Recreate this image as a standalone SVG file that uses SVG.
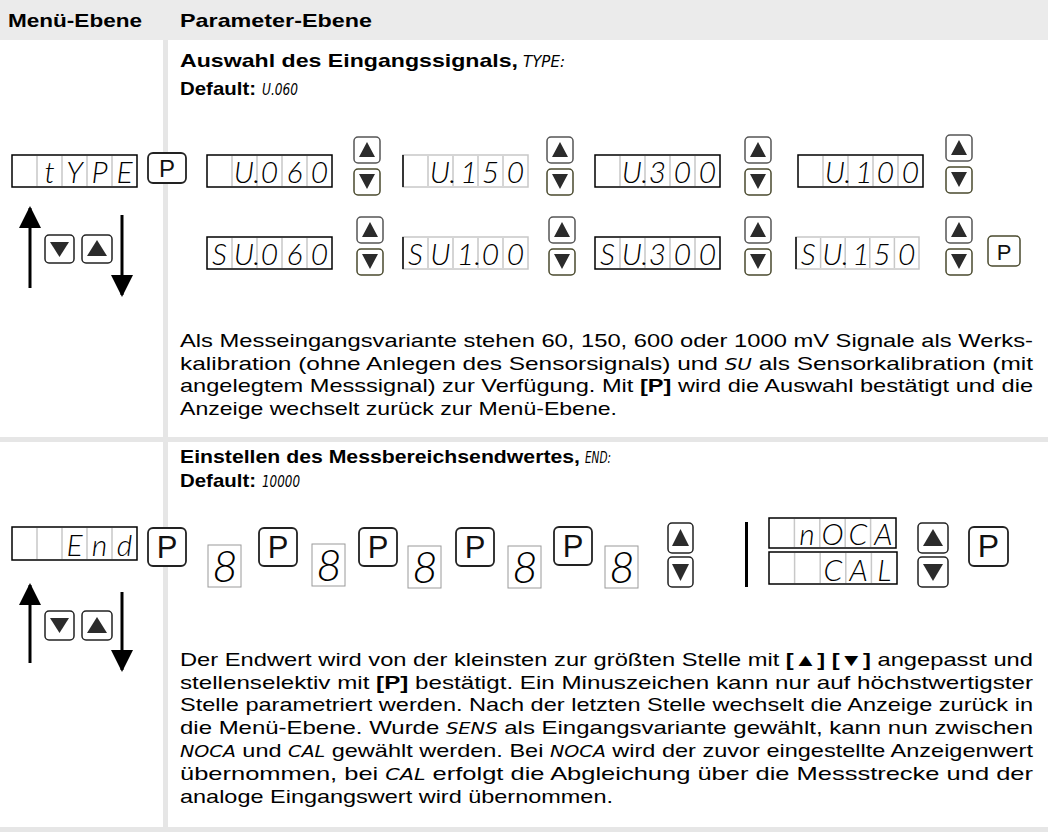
<svg xmlns="http://www.w3.org/2000/svg" width="1048" height="832" viewBox="0 0 1048 832">
<style>
.hd{font-family:"Liberation Sans",Arial,sans-serif;font-weight:bold;font-size:19px;fill:#000}
.tx{font-family:"Liberation Sans",Arial,sans-serif;font-size:17.7px;fill:#000}
.bd{font-weight:bold}
.si{font-family:"Liberation Sans Narrow","DejaVu Sans Condensed",sans-serif;font-style:italic;font-weight:normal;font-size:16px;fill:#000}
.seg{font-family:Lato,"DejaVu Sans",sans-serif;font-weight:300;font-style:italic;font-size:30px;fill:#000;text-anchor:middle}
.seg8{font-family:Lato,"DejaVu Sans",sans-serif;font-weight:300;font-style:italic;font-size:44px;fill:#000;text-anchor:middle}
.dbox{fill:#fff;stroke:#000;stroke-width:1.5}
.dcell{fill:none;stroke:#c8c8c8;stroke-width:1.5}
.box8{fill:#fff;stroke:#9a9a9a;stroke-width:1}
.bu{fill:#fff;stroke:#555;stroke-width:1.5}
.bdn{fill:#fff;stroke:#4a4a2e;stroke-width:1.5}
.tri{fill:#2b2b2b}
.pb{fill:#fff;stroke:#222;stroke-width:1.8}
.pt{font-family:"Liberation Sans",Arial,sans-serif;font-size:24px;fill:#111;text-anchor:middle}
.pt2{font-family:"Liberation Sans",Arial,sans-serif;font-size:31px;fill:#111;text-anchor:middle}
.arr{stroke:#000;stroke-width:3;fill:none}
</style>
<defs>
<marker id="ah" markerUnits="userSpaceOnUse" markerWidth="22" markerHeight="22" viewBox="0 0 22 22" refX="20" refY="11" orient="auto">
<path d="M0,0 L22,11 L0,22 Z" fill="#000"/>
</marker>
<g id="ud">
<rect class="bu" x="0" y="0" width="26" height="26" rx="4"/>
<path class="tri" d="M5,20 L13,5 L21,20 Z"/>
<rect class="bdn" x="0" y="32" width="26" height="26" rx="4"/>
<path class="tri" d="M5,37 L21,37 L13,52 Z"/>
</g>
</defs>
<rect width="1048" height="832" fill="#fff"/>
<g id="table">
<rect x="0" y="0" width="1048" height="40" fill="#ebebeb"/>
<rect x="163" y="40" width="5" height="792" fill="#e6e6e6"/>
<rect x="0" y="437" width="1048" height="5" fill="#e6e6e6"/>
<rect x="0" y="827" width="1048" height="5" fill="#e6e6e6"/>
<text class="hd" x="8" y="27" textLength="134" lengthAdjust="spacingAndGlyphs">Menü-Ebene</text>
<text class="hd" x="180" y="27" textLength="192" lengthAdjust="spacingAndGlyphs">Parameter-Ebene</text>
</g>

<g id="title-type">
<text class="hd" x="180" y="67" textLength="338" lengthAdjust="spacingAndGlyphs">Auswahl des Eingangssignals,</text>
<text class="si" x="523" y="67" textLength="42" lengthAdjust="spacingAndGlyphs">TYPE:</text>
<text class="hd" x="180" y="95" textLength="76" lengthAdjust="spacingAndGlyphs">Default:</text>
<text class="si" x="262" y="95" textLength="36" lengthAdjust="spacingAndGlyphs">U.060</text>
</g>

<g id="menu-type">
<g transform="translate(12,155)"><rect class="dbox" width="125" height="32"/><path class="dcell" d="M25,1V31M50,1V31M75,1V31M100,1V31"/>
<text class="seg" x="37.5" y="28">t</text><text class="seg" x="62.5" y="28">Y</text><text class="seg" x="87.5" y="28">P</text><text class="seg" x="112.5" y="28">E</text></g>
<rect class="pb" x="148" y="153" width="38" height="30" rx="5"/><text class="pt" x="167" y="177">P</text>
<rect class="bu" x="45" y="235" width="29" height="28" rx="4" style="stroke:#222"/><path class="tri" d="M50,242 L69,242 L59.5,257 Z"/>
<rect class="bu" x="82" y="235" width="30" height="28" rx="4" style="stroke:#222"/><path class="tri" d="M87,256 L97,240 L107,256 Z"/>
</g>

<g id="type-options">
<g transform="translate(207,155)"><rect class="dbox" width="125" height="32"/><path class="dcell" d="M25,1V31M50,1V31M75,1V31M100,1V31"/>
<text class="seg" x="40" y="28">U.</text><text class="seg" x="62.5" y="28">0</text><text class="seg" x="87.5" y="28">6</text><text class="seg" x="112.5" y="28">0</text></g>
<use href="#ud" x="354" y="137"/>
<g transform="translate(403,155)"><rect class="dbox" width="125" height="32" style="stroke:#c8c8c8"/><path d="M0,0V32" stroke="#000" stroke-width="1.5"/><path class="dcell" d="M25,1V31M50,1V31M75,1V31M100,1V31"/>
<text class="seg" x="40" y="28">U.</text><text class="seg" x="66" y="28">1</text><text class="seg" x="87.5" y="28">5</text><text class="seg" x="112.5" y="28">0</text></g>
<use href="#ud" x="547" y="137"/>
<g transform="translate(595,155)"><rect class="dbox" width="125" height="32"/><path class="dcell" d="M25,1V31M50,1V31M75,1V31M100,1V31"/>
<text class="seg" x="40" y="28">U.</text><text class="seg" x="62.5" y="28">3</text><text class="seg" x="87.5" y="28">0</text><text class="seg" x="112.5" y="28">0</text></g>
<use href="#ud" x="745" y="137"/>
<g transform="translate(798,155)"><rect class="dbox" width="125" height="32"/><path class="dcell" d="M25,1V31M50,1V31M75,1V31M100,1V31"/>
<text class="seg" x="40" y="28">U.</text><text class="seg" x="66" y="28">1</text><text class="seg" x="87.5" y="28">0</text><text class="seg" x="112.5" y="28">0</text></g>
<use href="#ud" x="946" y="135"/>

<g transform="translate(207,237)"><rect class="dbox" width="125" height="32"/><path class="dcell" d="M25,1V31M50,1V31M75,1V31M100,1V31"/>
<text class="seg" x="12.5" y="28">S</text><text class="seg" x="40" y="28">U.</text><text class="seg" x="62.5" y="28">0</text><text class="seg" x="87.5" y="28">6</text><text class="seg" x="112.5" y="28">0</text></g>
<use href="#ud" x="357" y="217"/>
<g transform="translate(403,237)"><rect class="dbox" width="125" height="32" style="stroke:#c8c8c8"/><path d="M0,0V32" stroke="#000" stroke-width="1.5"/><path class="dcell" d="M25,1V31M50,1V31M75,1V31M100,1V31"/>
<text class="seg" x="12.5" y="28">S</text><text class="seg" x="37.5" y="28">U</text><text class="seg" x="66" y="28">1.</text><text class="seg" x="87.5" y="28">0</text><text class="seg" x="112.5" y="28">0</text></g>
<use href="#ud" x="549" y="217"/>
<g transform="translate(595,237)"><rect class="dbox" width="125" height="32"/><path class="dcell" d="M25,1V31M50,1V31M75,1V31M100,1V31"/>
<text class="seg" x="12.5" y="28">S</text><text class="seg" x="40" y="28">U.</text><text class="seg" x="62.5" y="28">3</text><text class="seg" x="87.5" y="28">0</text><text class="seg" x="112.5" y="28">0</text></g>
<use href="#ud" x="745" y="217"/>
<g transform="translate(796,237)"><rect class="dbox" width="123" height="32" style="stroke:#c8c8c8"/><path d="M0,0V32" stroke="#000" stroke-width="1.5"/><path class="dcell" d="M24.6,1V31M49.2,1V31M73.8,1V31M98.4,1V31"/>
<text class="seg" x="12.3" y="28">S</text><text class="seg" x="39.5" y="28">U.</text><text class="seg" x="65" y="28">1</text><text class="seg" x="86" y="28">5</text><text class="seg" x="110.7" y="28">0</text></g>
<use href="#ud" x="946" y="217"/>
<rect class="pb" x="988" y="236" width="32" height="30" rx="4" style="stroke:#4a4a2e;stroke-width:1.5"/><text class="pt" x="1004" y="260" style="font-size:22px">P</text>
</g>

<g id="text-type">
<text class="tx" x="180" y="347" textLength="853" lengthAdjust="spacingAndGlyphs">Als Messeingangsvariante stehen 60, 150, 600 oder 1000 mV Signale als Werks-</text>
<text class="tx" x="180" y="370" textLength="853" lengthAdjust="spacingAndGlyphs">kalibration (ohne Anlegen des Sensorsignals) und <tspan class="si">SU</tspan> als Sensorkalibration (mit</text>
<text class="tx" x="180" y="392" textLength="853" lengthAdjust="spacingAndGlyphs">angelegtem Messsignal) zur Verfügung. Mit <tspan class="bd">[P]</tspan> wird die Auswahl bestätigt und die</text>
<text class="tx" x="180" y="415" textLength="437" lengthAdjust="spacingAndGlyphs">Anzeige wechselt zurück zur Menü-Ebene.</text>
</g>

<g id="title-end">
<text class="hd" x="180" y="463" textLength="400" lengthAdjust="spacingAndGlyphs">Einstellen des Messbereichsendwertes,</text>
<text class="si" x="585" y="463" textLength="26" lengthAdjust="spacingAndGlyphs">END:</text>
<text class="hd" x="180" y="487" textLength="76" lengthAdjust="spacingAndGlyphs">Default:</text>
<text class="si" x="262" y="487" textLength="38" lengthAdjust="spacingAndGlyphs">10000</text>
</g>

<g id="menu-end">
<g transform="translate(12,527)"><rect class="dbox" width="125" height="33"/><path class="dcell" d="M25,1V32M50,1V32M75,1V32M100,1V32"/>
<text class="seg" x="62.5" y="29">E</text><text class="seg" x="87.5" y="29">n</text><text class="seg" x="112.5" y="29">d</text></g>
<rect class="pb" x="148" y="528" width="38" height="38" rx="5"/><text class="pt2" x="167" y="558">P</text>
<rect class="bu" x="45" y="611" width="29" height="29" rx="4" style="stroke:#222"/><path class="tri" d="M50,618 L69,618 L59.5,633 Z"/>
<rect class="bu" x="82" y="611" width="30" height="29" rx="4" style="stroke:#222"/><path class="tri" d="M87,633 L97,617 L107,633 Z"/>
</g>

<g id="end-digits">
<rect class="box8" x="208" y="545" width="33" height="42"/><text class="seg8" x="225" y="582">8</text>
<rect class="pb" x="259" y="528" width="38" height="38" rx="5"/><text class="pt2" x="278" y="558">P</text>
<rect class="box8" x="312" y="544" width="33" height="42"/><text class="seg8" x="329" y="581">8</text>
<rect class="pb" x="359" y="528" width="38" height="38" rx="5"/><text class="pt2" x="378" y="558">P</text>
<rect class="box8" x="408" y="546" width="33" height="42"/><text class="seg8" x="425" y="583">8</text>
<rect class="pb" x="456" y="528" width="38" height="38" rx="5"/><text class="pt2" x="475" y="558">P</text>
<rect class="box8" x="508" y="546" width="33" height="42"/><text class="seg8" x="525" y="583">8</text>
<rect class="pb" x="554" y="527" width="38" height="38" rx="5"/><text class="pt2" x="573" y="557">P</text>
<rect class="box8" x="605" y="546" width="33" height="42"/><text class="seg8" x="622" y="583">8</text>
<rect class="bu" x="668" y="523" width="25" height="30" rx="4" style="stroke:#222"/><path class="tri" d="M672,546 L680.5,529 L689,546 Z"/>
<rect class="bu" x="668" y="557" width="25" height="30" rx="4" style="stroke:#222"/><path class="tri" d="M672,564 L689,564 L680.5,581 Z"/>
</g>

<g id="end-sens">
<rect x="745" y="522" width="3" height="65" fill="#000"/>
<g transform="translate(769,518)"><rect class="dbox" width="127" height="30"/><path class="dcell" d="M25.4,1V29M50.8,1V29M76.2,1V29M101.6,1V29"/>
<text class="seg" x="38" y="27">n</text><text class="seg" x="63.5" y="27">O</text><text class="seg" x="89" y="27">C</text><text class="seg" x="114.3" y="27">A</text></g>
<g transform="translate(769,552)"><rect class="dbox" width="128" height="32"/><path class="dcell" d="M25.6,1V31M51.2,1V31M76.8,1V31M102.4,1V31"/>
<text class="seg" x="64" y="29">C</text><text class="seg" x="89.6" y="29">A</text><text class="seg" x="115.2" y="29">L</text></g>
<rect class="bu" x="918" y="523" width="30" height="30" rx="4" style="stroke:#222"/><path class="tri" d="M923,546 L933,529 L943,546 Z"/>
<rect class="bu" x="918" y="557" width="30" height="30" rx="4" style="stroke:#222"/><path class="tri" d="M923,564 L943,564 L933,581 Z"/>
<rect class="pb" x="969" y="527" width="39" height="39" rx="5"/><text class="pt2" x="988.5" y="557" style="font-size:32px">P</text>
</g>

<g id="text-end">
<text class="tx" x="180" y="666" textLength="853" lengthAdjust="spacingAndGlyphs">Der Endwert wird von der kleinsten zur größten Stelle mit <tspan class="bd">[▲] [▼]</tspan> angepasst und</text>
<text class="tx" x="180" y="689" textLength="853" lengthAdjust="spacingAndGlyphs">stellenselektiv mit <tspan class="bd">[P]</tspan> bestätigt. Ein Minuszeichen kann nur auf höchstwertigster</text>
<text class="tx" x="180" y="711" textLength="853" lengthAdjust="spacingAndGlyphs">Stelle parametriert werden. Nach der letzten Stelle wechselt die Anzeige zurück in</text>
<text class="tx" x="180" y="734" textLength="853" lengthAdjust="spacingAndGlyphs">die Menü-Ebene. Wurde <tspan class="si">SENS</tspan> als Eingangsvariante gewählt, kann nun zwischen</text>
<text class="tx" x="180" y="757" textLength="853" lengthAdjust="spacingAndGlyphs"><tspan class="si">NOCA</tspan> und <tspan class="si">CAL</tspan> gewählt werden. Bei <tspan class="si">NOCA</tspan> wird der zuvor eingestellte Anzeigenwert</text>
<text class="tx" x="180" y="780" textLength="853" lengthAdjust="spacingAndGlyphs">übernommen, bei <tspan class="si">CAL</tspan> erfolgt die Abgleichung über die Messstrecke und der</text>
<text class="tx" x="180" y="803" textLength="433" lengthAdjust="spacingAndGlyphs">analoge Eingangswert wird übernommen.</text>
</g>

<g id="connectors">
<path class="arr" d="M30,288 V208" marker-end="url(#ah)"/>
<path class="arr" d="M122,215 V295" marker-end="url(#ah)"/>
<path class="arr" d="M30,663 V585" marker-end="url(#ah)"/>
<path class="arr" d="M122,592 V670" marker-end="url(#ah)"/>
</g>
</svg>
